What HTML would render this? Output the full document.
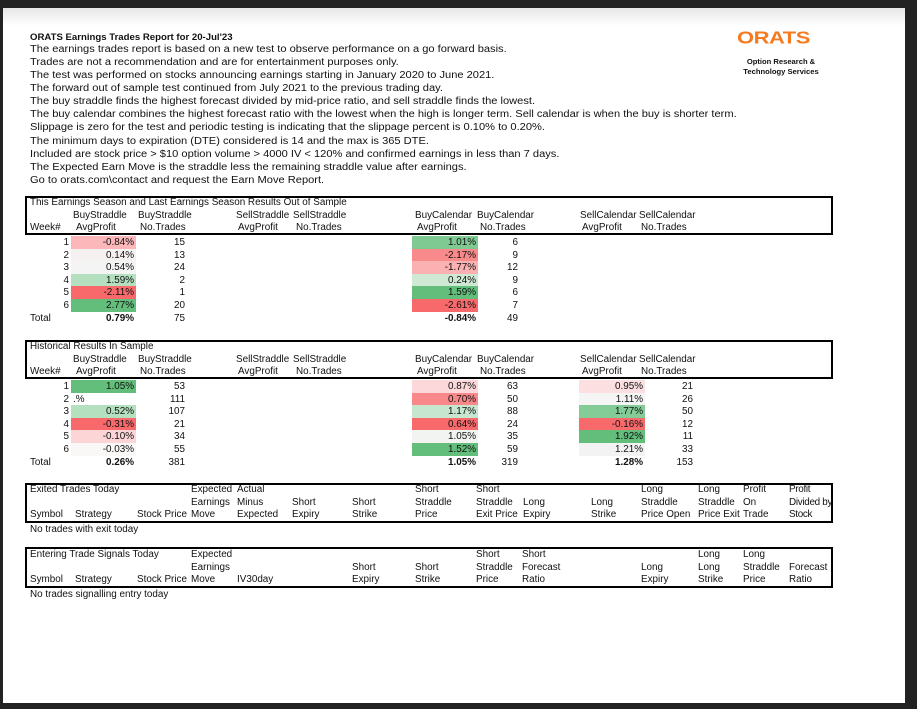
<!DOCTYPE html>
<html><head><meta charset="utf-8"><style>
*{margin:0;padding:0;box-sizing:border-box}
body{width:917px;height:709px;background:#222;position:relative;overflow:hidden;font-family:"Liberation Sans",Arial,sans-serif;font-size:9.9px;color:#111}
#pg{position:absolute;left:3px;top:8px;width:902px;height:695px;background:#fff}
#grad{position:absolute;left:3px;top:8px;width:902px;height:18px;background:linear-gradient(#e6e6e6,#fff)}
.t{position:absolute;white-space:nowrap;line-height:13px}
.p{font-size:11.1px;transform:scaleY(0.88);transform-origin:left top}
.r{position:absolute;white-space:nowrap;line-height:12px;text-align:right}
.box{position:absolute;border:2px solid #000}
.c{position:absolute;height:12px}
b{font-weight:bold}
.hd .t{line-height:12.5px}
</style></head><body>
<div id="pg"></div><div id="grad"></div>
<div class="t" style="left:30px;top:31px;font-weight:bold;font-size:9.6px">ORATS Earnings Trades Report for 20-Jul'23</div>
<div class="t p" style="left:30px;top:44px">The earnings trades report is based on a new test to observe performance on a go forward basis.</div>
<div class="t p" style="left:30px;top:57px">Trades are not a recommendation and are for entertainment purposes only.</div>
<div class="t p" style="left:30px;top:70px">The test was performed on stocks announcing earnings starting in January 2020 to June 2021.</div>
<div class="t p" style="left:30px;top:83px">The forward out of sample test continued from July 2021 to the previous trading day.</div>
<div class="t p" style="left:30px;top:96px">The buy straddle finds the highest forecast divided by mid-price ratio, and sell straddle finds the lowest.</div>
<div class="t p" style="left:30px;top:109px">The buy calendar combines the highest forecast ratio with the lowest when the high is longer term. Sell calendar is when the buy is shorter term.</div>
<div class="t p" style="left:30px;top:122px">Slippage is zero for the test and periodic testing is indicating that the slippage percent is 0.10% to 0.20%.</div>
<div class="t p" style="left:30px;top:136px">The minimum days to expiration (DTE) considered is 14 and the max is 365 DTE.</div>
<div class="t p" style="left:30px;top:149px">Included are stock price &gt; $10 option volume &gt; 4000 IV &lt; 120% and confirmed earnings in less than 7 days.</div>
<div class="t p" style="left:30px;top:162px">The Expected Earn Move is the straddle less the remaining straddle value after earnings.</div>
<div class="t p" style="left:30px;top:175px">Go to orats.com\contact and request the Earn Move Report.</div>

<div class="t" style="left:737px;top:29px;font-size:22px;line-height:22px;font-weight:bold;color:#f47b20;letter-spacing:-0.5px;transform:scaleY(0.8);transform-origin:top left">ORATS</div>
<div class="t" style="left:741px;top:57px;font-weight:bold;font-size:7.6px;line-height:10px;text-align:center;width:80px">Option Research &amp;<br>Technology Services</div>

<div class="hd">
<div class="box" style="left:25px;top:196px;width:808px;height:39px"></div>
<div class="t" style="left:30px;top:197px">This Earnings Season and Last Earnings Season Results Out of Sample</div>
<div class="t" style="left:73px;top:210px">BuyStraddle</div><div class="t" style="left:76px;top:222px">AvgProfit</div>
<div class="t" style="left:138px;top:210px">BuyStraddle</div><div class="t" style="left:140px;top:222px">No.Trades</div>
<div class="t" style="left:236px;top:210px">SellStraddle</div><div class="t" style="left:238px;top:222px">AvgProfit</div>
<div class="t" style="left:293px;top:210px">SellStraddle</div><div class="t" style="left:296px;top:222px">No.Trades</div>
<div class="t" style="left:415px;top:210px">BuyCalendar</div><div class="t" style="left:417px;top:222px">AvgProfit</div>
<div class="t" style="left:477px;top:210px">BuyCalendar</div><div class="t" style="left:480px;top:222px">No.Trades</div>
<div class="t" style="left:580px;top:210px">SellCalendar</div><div class="t" style="left:582px;top:222px">AvgProfit</div>
<div class="t" style="left:639px;top:210px">SellCalendar</div><div class="t" style="left:641px;top:222px">No.Trades</div>
<div class="t" style="left:30px;top:222px">Week#</div>

<div id="t1"></div>
<div class="box" style="left:25px;top:340px;width:808px;height:39px"></div>
<div class="t" style="left:30px;top:341px">Historical Results In Sample</div>
<div class="t" style="left:73px;top:354px">BuyStraddle</div><div class="t" style="left:76px;top:366px">AvgProfit</div>
<div class="t" style="left:138px;top:354px">BuyStraddle</div><div class="t" style="left:140px;top:366px">No.Trades</div>
<div class="t" style="left:236px;top:354px">SellStraddle</div><div class="t" style="left:238px;top:366px">AvgProfit</div>
<div class="t" style="left:293px;top:354px">SellStraddle</div><div class="t" style="left:296px;top:366px">No.Trades</div>
<div class="t" style="left:415px;top:354px">BuyCalendar</div><div class="t" style="left:417px;top:366px">AvgProfit</div>
<div class="t" style="left:477px;top:354px">BuyCalendar</div><div class="t" style="left:480px;top:366px">No.Trades</div>
<div class="t" style="left:580px;top:354px">SellCalendar</div><div class="t" style="left:582px;top:366px">AvgProfit</div>
<div class="t" style="left:639px;top:354px">SellCalendar</div><div class="t" style="left:641px;top:366px">No.Trades</div>
<div class="t" style="left:30px;top:366px">Week#</div>

<div class="box" style="left:25px;top:483px;width:808px;height:40px"></div>
<div class="t" style="left:30px;top:484px">Exited Trades Today</div>
<div class="t" style="left:30px;top:509px">Symbol</div><div class="t" style="left:75px;top:509px">Strategy</div><div class="t" style="left:137px;top:509px">Stock Price</div>
<div class="t" style="left:191px;top:484px">Expected<br>Earnings<br>Move</div>
<div class="t" style="left:237px;top:484px">Actual<br>Minus<br>Expected</div>
<div class="t" style="left:292px;top:496.5px">Short<br>Expiry</div>
<div class="t" style="left:352px;top:496.5px">Short<br>Strike</div>
<div class="t" style="left:415px;top:484px">Short<br>Straddle<br>Price</div>
<div class="t" style="left:476px;top:484px">Short<br>Straddle<br>Exit Price</div>
<div class="t" style="left:523px;top:496.5px">Long<br>Expiry</div>
<div class="t" style="left:591px;top:496.5px">Long<br>Strike</div>
<div class="t" style="left:641px;top:484px">Long<br>Straddle<br>Price Open</div>
<div class="t" style="left:698px;top:484px">Long<br>Straddle<br>Price Exit</div>
<div class="t" style="left:743px;top:484px">Profit<br>On<br>Trade</div>
<div class="t" style="left:789px;top:484px;letter-spacing:-0.3px">Profit<br>Divided by<br>Stock</div>
<div class="t" style="left:30px;top:524px">No trades with exit today</div>

<div class="box" style="left:25px;top:547px;width:808px;height:41px"></div>
<div class="t" style="left:30px;top:549px">Entering Trade Signals Today</div>
<div class="t" style="left:30px;top:574px">Symbol</div><div class="t" style="left:75px;top:574px">Strategy</div><div class="t" style="left:137px;top:574px">Stock Price</div>
<div class="t" style="left:191px;top:549px">Expected<br>Earnings<br>Move</div>
<div class="t" style="left:237px;top:574px">IV30day</div>
<div class="t" style="left:352px;top:561.5px">Short<br>Expiry</div>
<div class="t" style="left:415px;top:561.5px">Short<br>Strike</div>
<div class="t" style="left:476px;top:549px">Short<br>Straddle<br>Price</div>
<div class="t" style="left:522px;top:549px">Short<br>Forecast<br>Ratio</div>
<div class="t" style="left:641px;top:561.5px">Long<br>Expiry</div>
<div class="t" style="left:698px;top:549px">Long<br>Long<br>Strike</div>
<div class="t" style="left:743px;top:549px">Long<br>Straddle<br>Price</div>
<div class="t" style="left:789px;top:561.5px">Forecast<br>Ratio</div>
<div class="t" style="left:30px;top:589px">No trades signalling entry today</div>
</div>

<script>
function cell(x,w,y,col,txt,bold){
 var h='';
 if(col)h+='<div class="c" style="left:'+x+'px;top:'+y+'px;width:'+w+'px;height:13px;background:'+col+'"></div>';
 h+='<div class="r" style="left:'+x+'px;top:'+(y+1)+'px;width:'+(w-2)+'px">'+(bold?'<b>'+txt+'</b>':txt)+'</div>';
 return h;
}
function num(xr,y,txt,bold){return '<div class="r" style="left:'+(xr-60)+'px;top:'+(y+1)+'px;width:60px">'+(bold?'<b>'+txt+'</b>':txt)+'</div>';}
var H='';
var y0=236,dy=12.5;
var bs=[['-0.84%','#fbb7b9',15],['0.14%','#f6f1f1',13],['0.54%','#f3f4f3',24],['1.59%','#b4e0c0',2],['-2.11%','#f8696b',1],['2.77%','#63be7b',20]];
var bc=[['1.01%','#7fca93',6],['-2.17%','#f98a8c',9],['-1.77%','#fbb0b2',12],['0.24%','#cfe9d5',9],['1.59%','#63be7b',6],['-2.61%','#f8696b',7]];
for(var i=0;i<6;i++){var y=Math.round(y0+i*dy);
 H+=num(69,y,i+1);H+=cell(71,65,y,bs[i][1],bs[i][0]);H+=num(185,y,bs[i][2]);
 H+=cell(412,66,y,bc[i][1],bc[i][0]);H+=num(518,y,bc[i][2]);}
var yt=Math.round(y0+6*dy)+1;
H+='<div class="t" style="left:30px;top:'+(yt+1)+'px;line-height:12px">Total</div>'+cell(71,65,yt,null,'0.79%',1)+num(185,yt,75)+cell(412,66,yt,null,'-0.84%',1)+num(518,yt,49);
y0=380;
var hs=[['1.05%','#63be7b',53],['.%',null,111],['0.52%','#b4e0c0',107],['-0.31%','#f8696b',21],['-0.10%','#fcd5d7',34],['-0.03%','#faf7f7',55]];
var hc=[['0.87%','#fcd8da',63],['0.70%','#f9888a',50],['1.17%','#c6e6cf',88],['0.64%','#f8696b',24],['1.05%','#f1f4f1',35],['1.52%','#63be7b',59]];
var sc=[['0.95%','#fbdfe1',21],['1.11%','#f5f5f5',26],['1.77%','#84cc97',50],['-0.16%','#f8696b',12],['1.92%','#63be7b',11],['1.21%','#f3f3f3',33]];
for(i=0;i<6;i++){var y=Math.round(y0+i*dy);
 H+=num(69,y,i+1);
 if(i==1)H+='<div class="t" style="left:73px;top:'+(y+1)+'px;line-height:12px">.%</div>';else H+=cell(71,65,y,hs[i][1],hs[i][0]);
 H+=num(185,y,hs[i][2]);
 H+=cell(412,66,y,hc[i][1],hc[i][0]);H+=num(518,y,hc[i][2]);
 H+=cell(579,66,y,sc[i][1],sc[i][0]);H+=num(693,y,sc[i][2]);}
yt=Math.round(y0+6*dy)+1;
H+='<div class="t" style="left:30px;top:'+(yt+1)+'px;line-height:12px">Total</div>'+cell(71,65,yt,null,'0.26%',1)+num(185,yt,381)+cell(412,66,yt,null,'1.05%',1)+num(518,yt,319)+cell(579,66,yt,null,'1.28%',1)+num(693,yt,153);
document.getElementById('t1').innerHTML=H;
</script>
</body></html>
